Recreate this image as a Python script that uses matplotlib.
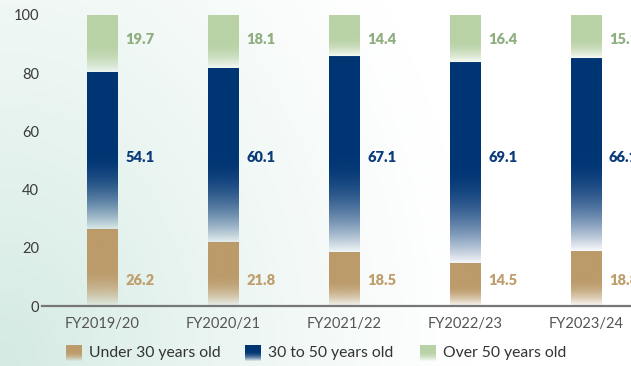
import numpy as np
import matplotlib
matplotlib.use("Agg")
import matplotlib.pyplot as plt
from matplotlib.colors import to_rgb

# staff age profile (%) by financial year
years = ["FY2019/20", "FY2020/21", "FY2021/22", "FY2022/23", "FY2023/24"]
under_30 = [26.2, 21.8, 18.5, 14.5, 18.8]
age_30_50 = [54.1, 60.1, 67.1, 69.1, 66.1]
over_50 = [19.7, 18.1, 14.4, 16.4, 15.1]

series_names = ["Under 30 years old", "30 to 50 years old", "Over 50 years old"]
bar_colors = ["#bc9b6a", "#003574", "#b9d2a6"]
text_colors = ["#bf9e6e", "#0b3b7a", "#8fae80"]
label_y = [8.6, 51.2, 91.7]

plt.rcParams["font.family"] = ["Lato", "DejaVu Sans"]

fig = plt.figure(figsize=(6.31, 3.66), dpi=100)

# soft mint wash behind everything, strongest bottom-left
bg = fig.add_axes([0, 0, 1, 1], zorder=-10)
gx, gy = np.meshgrid(np.linspace(0, 1, 300), np.linspace(0, 1, 200))
d = np.clip(np.sqrt((gx / 0.75) ** 2 + (gy / 1.7) ** 2), 0, 1)
w = (1 - d) ** 1.2
mint = np.array(to_rgb("#d4eae3"))
img = np.ones((200, 300, 3)) * (1 - w[..., None]) + mint * w[..., None]
bg.imshow(img, origin="lower", extent=(0, 1, 0, 1), aspect="auto")
bg.axis("off")


def gradient_rgba(color, n=200, fade=0.48):
    t = np.linspace(0, 1, n)  # 0 = bottom, 1 = top
    a = np.clip(t / fade, 0, 1)
    a = 1 - (1 - a) ** 1.8
    a = 0.03 + 0.97 * a
    rgba = np.zeros((n, 1, 4))
    rgba[:, 0, :3] = to_rgb(color)
    rgba[:, 0, 3] = a
    return rgba


ax = fig.add_axes([42 / 631, 60 / 366, 1 - 42 / 631, 291 / 366])
ax.patch.set_alpha(0)

x = np.arange(len(years))
width = 0.256
stacks = [under_30, age_30_50, over_50]
bottoms = np.zeros(len(years))
for vals, col, tcol, ly in zip(stacks, bar_colors, text_colors, label_y):
    grad = gradient_rgba(col)
    for i, v in enumerate(vals):
        b = bottoms[i]
        ax.imshow(grad, origin="lower", aspect="auto", interpolation="bilinear",
                  extent=(x[i] - width / 2, x[i] + width / 2, b, b + v), zorder=2)
        ax.text(x[i] + width / 2 + 0.06, ly, f"{v:.1f}", color=tcol,
                fontsize=10.5, fontweight="heavy", va="center", ha="left",
                clip_on=False)
    bottoms += np.array(vals)

ax.set_xlim(-0.5, 4.37)
ax.set_ylim(0, 100)
ax.set_xticks(x)
ax.set_xticklabels(years)
ax.set_yticks([0, 20, 40, 60, 80, 100])
ax.tick_params(axis="both", length=0, labelsize=10.5)
ax.tick_params(axis="x", colors="#555555", pad=8)
ax.tick_params(axis="y", colors="#3a3a3a", pad=2)
for side in ["top", "right", "left"]:
    ax.spines[side].set_visible(False)
ax.spines["bottom"].set_color("#777777")
ax.spines["bottom"].set_linewidth(1.6)

# legend swatches with the same fade
leg_x = [66, 245, 420]
for lx, col, name in zip(leg_x, bar_colors, series_names):
    sw = fig.add_axes([lx / 631, 5 / 366, 16 / 631, 16 / 366])
    sw.imshow(gradient_rgba(col, fade=0.6), origin="lower", aspect="auto",
              extent=(0, 1, 0, 1), interpolation="bilinear")
    sw.axis("off")
    fig.text((lx + 23) / 631, 12.5 / 366, name, fontsize=11.3,
             color="#333333", va="center", ha="left")

fig.savefig("out.png", dpi=100)
